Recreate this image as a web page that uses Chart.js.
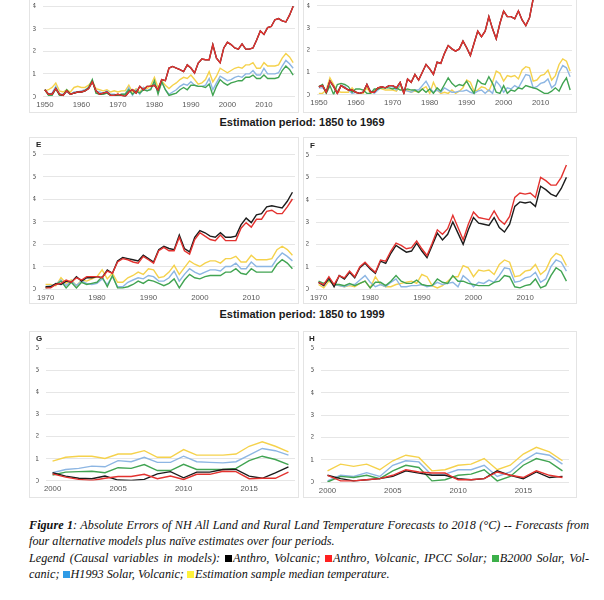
<!DOCTYPE html>
<html>
<head>
<meta charset="utf-8">
<script src="https://cdn.jsdelivr.net/npm/chart.js@4.4.1/dist/chart.umd.min.js"></script>
<style>
  body { margin: 0; width: 604px; height: 600px; overflow: hidden; background: #fff; position: relative; }
  .panel { position: absolute; outline: 1px solid #e4e4e4; background: #fff; }
  .panel canvas { position: absolute; left: 0; top: 0; }
  .tag { position: absolute; font: bold 8px 'Liberation Sans', sans-serif; color: #222; z-index: 2; }
  .head { position: absolute; left: 0; width: 604px; text-align: center; font: bold 11px 'Liberation Sans', sans-serif; color: #1a1a1a; }
  .cap { position: absolute; left: 29px; width: 560px; font: italic 12.2px 'Liberation Serif', serif; color: #111; white-space: nowrap; }
  .cap.just { text-align: justify; text-align-last: justify; white-space: normal; }
  .sq { display: inline-block; width: 7px; height: 7px; margin-right: 1px; }
</style>
</head>
<body>
<div class="head" style="top:116px">Estimation period: 1850 to 1969</div>
<div class="head" style="top:308px">Estimation period: 1850 to 1999</div>

<div class="cap just" style="top:518px"><b>Figure 1</b>: Absolute Errors of NH All Land and Rural Land Temperature Forecasts to 2018 (°C) -- Forecasts from</div>
<div class="cap" style="top:534px">four alternative models plus naïve estimates over four periods.</div>
<div class="cap just" style="top:551px">Legend (Causal variables in models): <span class="sq" style="background:#000"></span>Anthro, Volcanic; <span class="sq" style="background:#ff2020"></span>Anthro, Volcanic, IPCC Solar; <span class="sq" style="background:#3cb04a"></span>B2000 Solar, Vol-</div>
<div class="cap" style="top:567px">canic; <span class="sq" style="background:#2f9be6"></span>H1993 Solar, Volcanic; <span class="sq" style="background:#fff23a"></span>Estimation sample median temperature.</div>

<script>
// years on the category axes
const years1950 = Array.from({ length: 69 }, (_, i) => 1950 + i);
const years1970 = Array.from({ length: 49 }, (_, i) => 1970 + i);
const years2000 = Array.from({ length: 19 }, (_, i) => 2000 + i);

// panel C (top left, cropped)
const cRed = [0.3,0.1,0.1,0.35,0.1,0.05,0.25,0.1,0.15,0.2, 0.2,0.25,0.35,0.65,0.25,0.1,0.15,0.2,0.05,0.05,
  0.1,0.05,0.0,0.2,0.3,0.15,0.45,0.3,0.45,0.45, 0.5,0.3,0.75,0.7,1.26,1.33,1.26,1.19,1.1,1.4,
  1.26,1.04,1.48,1.66,1.63,1.63,2.3,1.7,1.5,2.15, 2.4,2.3,2.15,2.1,2.33,2.1,2.1,2.15,2.5,2.9,
  2.75,3.05,3.1,3.4,3.45,3.35,3.3,3.6,4.0];
const cBlack = cRed; // hidden under the red line
const cYellow = [0.25,0.3,0.4,0.6,0.25,0.2,0.3,0.2,0.4,0.45, 0.4,0.4,0.5,0.7,0.35,0.3,0.25,0.3,0.2,0.25,
  0.2,0.25,0.25,0.5,0.2,0.35,0.2,0.4,0.35,0.5, 0.85,0.4,0.7,0.5,0.35,0.5,0.6,0.75,0.85,0.8,
  0.95,0.75,0.55,0.6,0.75,1.1,0.65,0.9,1.25,1.15, 1.05,1.15,1.25,1.3,1.25,1.4,1.4,1.5,1.25,1.25,
  1.5,1.35,1.35,1.35,1.4,1.7,1.9,1.75,1.5];
const cBlue = [0.3,0.1,0.15,0.45,0.1,0.1,0.2,0.1,0.2,0.2, 0.25,0.3,0.4,0.7,0.25,0.2,0.15,0.25,0.1,0.1,
  0.05,0.1,0.1,0.4,0.05,0.3,0.1,0.4,0.25,0.35, 0.6,0.2,0.65,0.3,0.1,0.2,0.3,0.45,0.55,0.5,
  0.65,0.5,0.45,0.45,0.5,0.8,0.3,0.6,0.9,0.8, 0.7,0.75,0.85,0.9,0.85,1.0,1.0,1.15,0.95,0.95,
  1.25,1.0,1.0,1.0,1.05,1.35,1.6,1.45,1.25];
const cGreen = [0.3,0.05,0.05,0.35,0.05,0.05,0.3,0.1,0.15,0.2, 0.2,0.25,0.4,0.75,0.15,0.1,0.1,0.15,0.05,0.05,
  0.05,0.1,0.1,0.3,0.1,0.25,0.15,0.3,0.25,0.3, 0.7,0.1,0.65,0.3,0.05,0.1,0.15,0.3,0.4,0.3,
  0.5,0.5,0.45,0.45,0.4,0.55,0.05,0.45,0.75,0.6, 0.5,0.6,0.65,0.7,0.7,0.85,0.85,0.95,0.8,0.8,
  0.95,0.8,0.8,0.8,0.85,1.15,1.35,1.2,0.95];

// panel D (top right, cropped)
const dRed = [0.35,0.4,0.1,0.6,0.35,0.05,0.4,0.3,0.2,0.2, 0.1,0.05,0.1,0.45,0.1,0.1,0.3,0.35,0.3,0.4,
  0.4,0.3,0.55,0.05,0.7,0.55,0.9,0.65,1.0,1.35, 1.15,0.9,1.45,1.4,1.85,2.2,2.05,1.95,2.05,2.4,
  2.1,1.75,2.3,2.85,2.6,2.85,3.5,2.95,2.5,3.2, 3.75,3.5,3.5,3.4,3.75,3.35,3.1,3.45,4.3,4.6,
  4.4,4.5,4.4,4.9,4.8,4.7,4.7,5.1,5.4];
const dBlack = dRed; // hidden under the red line
const dYellow = [0.05,0.05,0.2,0.75,0.45,0.15,0.1,0.1,0.1,0.3, 0.1,0.05,0.05,0.3,0.05,0.15,0.3,0.25,0.2,0.2,
  0.2,0.15,0.4,0.15,0.2,0.1,0.15,0.1,0.25,0.35, 0.05,0.55,0.2,0.05,0.1,0.05,0.2,0.05,0.15,0.3,
  0.65,0.55,0.15,0.2,0.35,0.3,0.15,0.55,1.05,0.95, 0.6,0.85,0.8,0.85,0.7,1.1,1.25,1.2,0.6,0.65,
  0.85,0.9,1.1,0.65,0.85,1.35,1.6,1.5,1.05];
const dBlue = [0.3,0.3,0.15,0.6,0.35,0.1,0.4,0.35,0.2,0.05, 0.1,0.05,0.1,0.45,0.15,0.05,0.2,0.35,0.3,0.4,
  0.35,0.2,0.45,0.2,0.15,0.1,0.2,0.2,0.4,0.6, 0.3,0.1,0.2,0.1,0.3,0.2,0.1,0.1,0.15,0.15,
  0.2,0.1,0.05,0.15,0.2,0.05,0.2,0.05,0.6,0.4, 0.1,0.3,0.25,0.4,0.3,0.6,0.9,0.85,0.3,0.35,
  0.5,0.55,0.7,0.3,0.45,1.0,1.3,1.2,0.8];
const dGreen = [0.35,0.45,0.05,0.4,0.0,0.45,0.5,0.45,0.35,0.1, 0.25,0.25,0.2,0.05,0.05,0.25,0.25,0.3,0.3,0.3,
  0.25,0.3,0.2,0.2,0.25,0.2,0.2,0.1,0.25,0.1, 0.25,0.05,0.3,0.15,0.45,0.75,0.5,0.35,0.45,0.4,
  0.6,0.3,0.05,0.65,0.5,0.45,0.8,0.5,0.1,0.05, 0.4,0.05,0.2,0.15,0.3,0.25,0.4,0.35,0.3,0.25,
  0.15,0.05,0.05,0.15,0.3,0.15,0.5,0.75,0.2];

// panel E
const eBlack = [0.1,0.1,0.25,0.2,0.35,0.3,0.55,0.35,0.5,0.5, 0.55,0.5,0.85,0.7,1.25,1.4,1.35,1.3,1.25,1.5,
  1.35,1.2,1.75,1.9,1.8,1.75,2.4,1.8,1.65,2.3, 2.6,2.5,2.35,2.3,2.5,2.3,2.3,2.35,2.85,3.15,
  2.95,3.3,3.35,3.65,3.7,3.65,3.6,3.9,4.3];
const eRed = [0.05,0.05,0.2,0.25,0.4,0.3,0.5,0.4,0.55,0.55, 0.55,0.5,0.8,0.7,1.2,1.35,1.3,1.2,1.15,1.45,
  1.3,1.15,1.7,1.85,1.7,1.7,2.3,1.7,1.55,2.2, 2.5,2.35,2.2,2.15,2.4,2.15,2.15,2.15,2.7,2.95,
  2.75,3.1,3.1,3.45,3.5,3.35,3.35,3.65,4.0];
const eYellow = [0.2,0.2,0.15,0.5,0.25,0.4,0.15,0.4,0.35,0.45, 0.55,0.85,0.45,0.7,0.3,0.3,0.5,0.6,0.75,0.65,
  0.9,0.85,0.5,0.55,0.75,1.05,0.65,0.95,1.25,1.1, 1.0,1.15,1.25,1.25,1.15,1.35,1.35,1.45,1.2,1.2,
  1.5,1.3,1.3,1.3,1.35,1.75,1.9,1.75,1.5];
const eBlue = [0.1,0.15,0.2,0.4,0.15,0.35,0.15,0.35,0.25,0.2, 0.25,0.45,0.2,0.55,0.1,0.1,0.3,0.4,0.5,0.45,
  0.6,0.55,0.35,0.35,0.5,0.8,0.35,0.65,0.9,0.75, 0.65,0.75,0.85,0.85,0.8,1.0,1.0,1.15,0.9,0.9,
  1.2,1.0,1.0,1.0,1.0,1.35,1.6,1.45,1.25];
const eGreen = [0.05,0.1,0.2,0.35,0.05,0.3,0.05,0.3,0.2,0.25, 0.3,0.55,0.1,0.6,0.05,0.05,0.1,0.2,0.35,0.25,
  0.4,0.35,0.25,0.15,0.25,0.45,0.05,0.4,0.65,0.5, 0.45,0.55,0.6,0.6,0.6,0.75,0.75,0.9,0.7,0.65,
  0.9,0.75,0.75,0.75,0.75,1.1,1.3,1.15,0.9];

// panel F
const fRed = [0.3,0.2,0.55,0.2,0.6,0.5,0.8,0.55,1.0,1.2, 0.95,0.75,1.3,1.25,1.7,2.05,1.95,1.8,1.85,2.15,
  1.8,1.5,2.05,2.65,2.45,2.7,3.3,2.75,2.2,2.9, 3.45,3.2,3.15,3.1,3.5,3.1,2.9,3.25,4.1,4.3,
  4.25,4.3,4.1,5.0,4.85,4.65,4.65,5.0,5.55];
const fBlack = [0.3,0.15,0.5,0.1,0.6,0.45,0.75,0.5,0.95,1.15, 0.9,0.7,1.25,1.15,1.6,1.95,1.8,1.65,1.7,2.05,
  1.7,1.4,1.95,2.5,2.2,2.45,3.0,2.5,2.0,2.65, 3.2,2.95,2.9,2.85,3.2,2.75,2.55,2.9,3.7,3.9,
  3.85,3.9,3.7,4.6,4.45,4.25,4.15,4.5,5.0];
const fYellow = [0.2,0.05,0.35,0.2,0.15,0.1,0.15,0.1,0.25,0.35, 0.05,0.55,0.2,0.1,0.1,0.2,0.25,0.3,0.35,0.25,
  0.65,0.55,0.15,0.05,0.15,0.35,0.55,0.55,1.05,0.95, 0.55,0.85,0.8,0.85,0.65,1.1,1.3,1.2,0.55,0.6,
  0.8,0.85,1.1,0.65,0.85,1.35,1.6,1.5,1.05];
const fBlue = [0.3,0.15,0.45,0.2,0.15,0.1,0.2,0.2,0.4,0.6, 0.3,0.1,0.2,0.1,0.3,0.45,0.1,0.1,0.15,0.15,
  0.2,0.1,0.15,0.3,0.2,0.25,0.3,0.1,0.6,0.4, 0.1,0.3,0.25,0.4,0.3,0.6,0.95,0.9,0.3,0.35,
  0.5,0.55,0.75,0.3,0.45,1.0,1.3,1.2,0.8];
const fGreen = [0.35,0.25,0.4,0.2,0.2,0.15,0.25,0.15,0.25,0.35, 0.05,0.3,0.3,0.15,0.35,0.6,0.35,0.25,0.25,0.4,
  0.2,0.15,0.15,0.45,0.3,0.25,0.6,0.35,0.35,0.25, 0.2,0.15,0.15,0.15,0.3,0.35,0.6,0.55,0.1,0.05,
  0.15,0.2,0.45,0.05,0.15,0.6,0.95,0.8,0.35];

// panel G
const gBlack = [0.35,0.2,0.1,0.08,0.2,0.02,0.0,0.05,0.3,0.4,0.12,0.38,0.38,0.5,0.5,0.2,0.1,0.35,0.62];
const gRed = [0.3,0.15,0.05,0.0,0.1,0.18,0.18,0.28,0.08,0.2,0.05,0.28,0.28,0.42,0.4,0.08,0.1,0.1,0.38];
const gYellow = [0.88,1.05,1.1,1.1,1.0,1.2,1.2,1.35,1.05,1.05,1.4,1.15,1.15,1.15,1.2,1.55,1.75,1.55,1.3];
const gBlue = [0.35,0.5,0.55,0.65,0.62,0.9,0.85,1.05,0.82,0.82,1.1,0.85,0.82,0.8,0.85,1.15,1.45,1.35,1.15];
const gGreen = [0.25,0.38,0.4,0.42,0.35,0.58,0.55,0.72,0.45,0.45,0.73,0.5,0.5,0.5,0.55,0.9,1.1,0.95,0.72];

// panel H
const hBlack = [0.3,0.15,0.05,0.1,0.15,0.25,0.5,0.4,0.3,0.3,0.15,0.1,0.15,0.5,0.3,0.15,0.45,0.2,0.25];
const hRed = [0.3,0.05,0.05,0.1,0.15,0.3,0.55,0.45,0.4,0.4,0.1,0.1,0.15,0.45,0.3,0.2,0.5,0.3,0.2];
const hYellow = [0.5,0.8,0.7,0.8,0.55,0.95,1.2,1.1,0.5,0.55,0.75,0.8,1.05,0.55,0.75,1.25,1.55,1.35,0.95];
const hBlue = [0.05,0.3,0.25,0.42,0.25,0.75,0.95,0.9,0.3,0.35,0.55,0.55,0.75,0.25,0.45,0.95,1.3,1.2,0.8];
const hGreen = [0.0,0.25,0.2,0.3,0.15,0.5,0.75,0.65,0.05,0.1,0.3,0.35,0.55,0.05,0.25,0.75,1.05,0.9,0.5];

const COLORS = { black: '#1c1c1c', red: '#e3322f', green: '#41a452', blue: '#8db6e3', yellow: '#f5d24c' };
const Y_W = 10, X_H = 14;

function drawPanel(p) {
  const [bx, by, bw, bh] = p.box;
  const [l, t, r, b] = p.plot;

  const box = document.createElement('div');
  box.className = 'panel';
  box.style.cssText = `left:${bx}px;top:${by}px;width:${bw}px;height:${bh}px`;
  const tag = document.createElement('div');
  tag.className = 'tag';
  tag.textContent = p.letter;
  tag.style.cssText = `left:${p.tag[0] - bx}px;top:${p.tag[1] - by}px`;
  const cv = document.createElement('canvas');
  cv.width = bw;
  cv.height = bh;
  box.appendChild(cv);
  box.appendChild(tag);
  document.body.appendChild(box);

  // top of the list is drawn on top
  const order = ['red', 'black', 'green', 'blue', 'yellow'];
  new Chart(cv, {
    type: 'line',
    data: {
      labels: p.years,
      datasets: order.map((k) => ({
        data: p.series[k],
        borderColor: COLORS[k],
        borderWidth: 1.4,
        pointRadius: 0,
        tension: 0,
        fill: false,
      })),
    },
    options: {
      responsive: false,
      animation: false,
      devicePixelRatio: 1,
      layout: {
        padding: { left: l - bx - Y_W, top: t - by, right: bx + bw - r, bottom: by + bh - b - X_H },
      },
      plugins: { legend: { display: false }, tooltip: { enabled: false } },
      scales: {
        x: {
          offset: true,
          grid: { display: false, drawTicks: false },
          border: { display: false },
          afterFit: (s) => { s.height = X_H; },
          ticks: {
            autoSkip: false,
            maxRotation: 0,
            padding: 4,
            color: '#595959',
            font: { size: 7.8, family: 'Liberation Sans' },
            callback: (v, i) => (p.years[i] % p.step === 0 ? String(p.years[i]) : null),
          },
        },
        y: {
          min: 0,
          max: 6,
          grid: { color: '#e6e6e6', lineWidth: 1, drawTicks: false },
          border: { display: false },
          afterFit: (s) => { s.width = Y_W; },
          ticks: {
            stepSize: 1,
            padding: 7,
            color: '#595959',
            font: { size: 7.8, family: 'Liberation Sans' },
          },
        },
      },
    },
  });
}

const panels = [
  { letter: 'C', box: [30, -60, 268, 172], plot: [43, -39, 295, 96.5], tag: [38, -53], years: years1950, step: 10,
    series: { black: cBlack, red: cRed, green: cGreen, blue: cBlue, yellow: cYellow } },
  { letter: 'D', box: [304, -60, 272, 172], plot: [317, -39, 572, 94.5], tag: [312, -53], years: years1950, step: 10,
    series: { black: dBlack, red: dRed, green: dGreen, blue: dBlue, yellow: dYellow } },
  { letter: 'E', box: [30, 138, 268, 165], plot: [43, 154, 295, 289], tag: [36, 140], years: years1970, step: 10,
    series: { black: eBlack, red: eRed, green: eGreen, blue: eBlue, yellow: eYellow } },
  { letter: 'F', box: [304, 138, 272, 165], plot: [316, 155, 569, 289], tag: [310, 141], years: years1970, step: 10,
    series: { black: fBlack, red: fRed, green: fGreen, blue: fBlue, yellow: fYellow } },
  { letter: 'G', box: [30, 332, 268, 165], plot: [46, 348, 295, 480.5], tag: [36, 334], years: years2000, step: 5,
    series: { black: gBlack, red: gRed, green: gGreen, blue: gBlue, yellow: gYellow } },
  { letter: 'H', box: [304, 332, 272, 165], plot: [321, 348, 569, 482], tag: [309, 334], years: years2000, step: 5,
    series: { black: hBlack, red: hRed, green: hGreen, blue: hBlue, yellow: hYellow } },
];

panels.forEach(drawPanel);
</script>
</body>
</html>
